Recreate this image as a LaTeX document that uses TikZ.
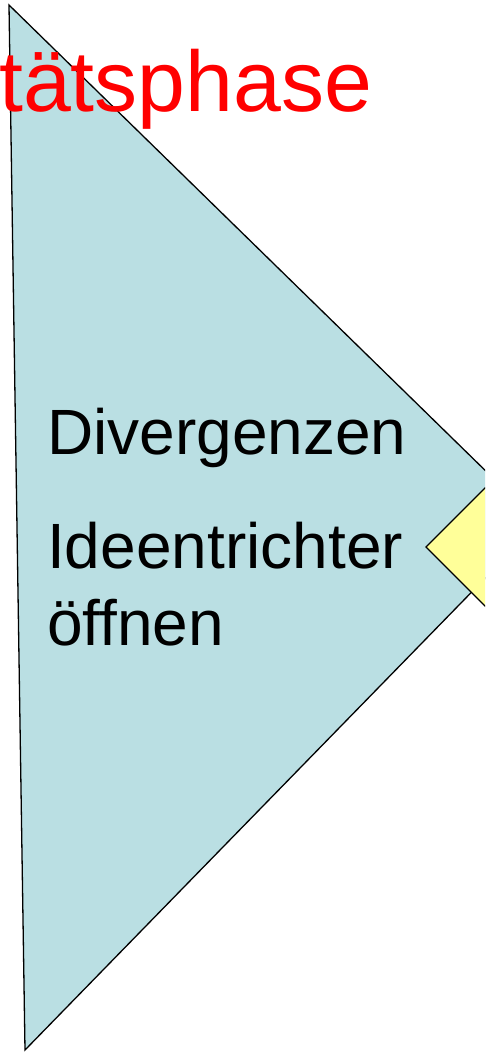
\documentclass[tikz,border=0pt]{standalone}
\usepackage{fontspec}
\setmainfont{Liberation Sans}
\definecolor{tealfill}{RGB}{186,223,227}
\definecolor{yelfill}{RGB}{255,255,153}
\definecolor{titlered}{RGB}{255,0,0}
\tikzset{
  shapeline/.style={draw=black, line width=1.3pt, line join=miter},
  titletext/.style={inner sep=0pt, anchor=base west, text=titlered, font=\fontsize{86}{86}\selectfont},
  bodytext/.style={inner sep=0pt, anchor=base west, text=black, font=\fontsize{64}{64}\selectfont}
}
\begin{document}
\begin{tikzpicture}[x=1pt, y=-1pt]
  \useasboundingbox (0,0) rectangle (485,1052);
  \clip (0,0) rectangle (485,1052);
  \coordinate (tA) at (9,5);
  \coordinate (tB) at (25,1050);
  \coordinate (tC) at (539,523);
  \filldraw[shapeline, fill=tealfill] (tA) -- (tC) -- (tB) -- cycle;
  \coordinate (dL) at (426,547);
  \coordinate (dT) at (526,447);
  \coordinate (dR) at (626,547);
  \coordinate (dB) at (526,647);
  \filldraw[shapeline, fill=yelfill] (dL) -- (dT) -- (dR) -- (dB) -- cycle;
  \node[titletext] (title) at (-1,111) {tätsphase};
  \node[bodytext] (div) at (47,454) {Divergenzen};
  \node[bodytext] (idee) at (47,568) {Ideentrichter};
  \node[bodytext] (oeff) at (47,645) {öffnen};
\end{tikzpicture}
\end{document}
